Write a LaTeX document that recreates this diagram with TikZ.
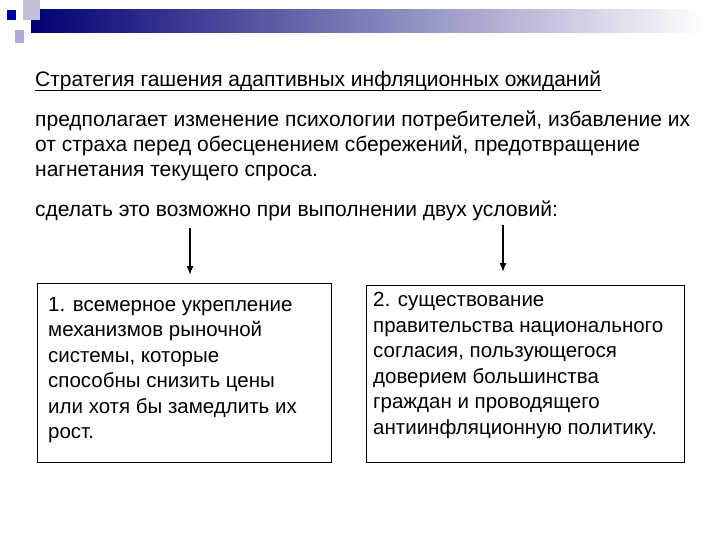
\documentclass[tikz,border=0pt]{standalone}
\usepackage{fontspec}
\usetikzlibrary{arrows.meta}
\setmainfont{Liberation Sans}
\begin{document}
\begin{tikzpicture}[x=1pt,y=-1pt,
 txt/.style={anchor=base west,inner sep=0pt,font=\fontsize{21}{25}\selectfont},
 btxt/.style={anchor=north west,inner sep=0pt,align=left,font=\fontsize{20.5}{25.5}\selectfont},
 bx/.style={draw,line width=0.8pt,anchor=north west,inner sep=0pt},
 arr/.style={-{Latex[length=9pt,width=7pt]},line width=1.6pt}]
\useasboundingbox (0,0) rectangle (720,540);
\shade[left color=blue!45!black,right color=white] (31,10) rectangle (705,33);
\fill[blue!20!gray!40] (23,0) rectangle (40,20);
\fill[blue!60!black] (7,10) rectangle (16,20);
\fill[blue!30!gray!50] (15,30) rectangle (24,43);
\node[txt] (t1) at (35,87) {Стратегия гашения адаптивных инфляционных ожиданий};
\draw[line width=0.6pt] ([yshift=-3pt]t1.base west) -- ([yshift=-3pt]t1.base east);
\node[txt] (t2) at (35,127) {предполагает изменение психологии потребителей, избавление их};
\node[txt] (t3) at (35,152) {от страха перед обесценением сбережений, предотвращение};
\node[txt] (t4) at (35,177) {нагнетания текущего спроса.};
\node[txt] (t5) at (35,217) {сделать это возможно при выполнении двух условий:};
\node[bx,minimum width=294,minimum height=179] (b1) at (37,283) {};
\node[bx,minimum width=318,minimum height=177] (b2) at (366,285) {};
\node[btxt] (l1) at (48,297) {1. всемерное укрепление\\механизмов рыночной\\системы, которые\\способны снизить цены\\или хотя бы замедлить их\\рост.};
\node[btxt] (l2) at (373,292) {2. существование\\правительства национального\\согласия, пользующегося\\доверием большинства\\граждан и проводящего\\антиинфляционную политику.};
\coordinate (a1) at (190,228); \coordinate (a2) at (503,225);
\draw[arr] (a1) -- (190,275);
\draw[arr] (a2) -- (503,272);
\end{tikzpicture}
\end{document}
